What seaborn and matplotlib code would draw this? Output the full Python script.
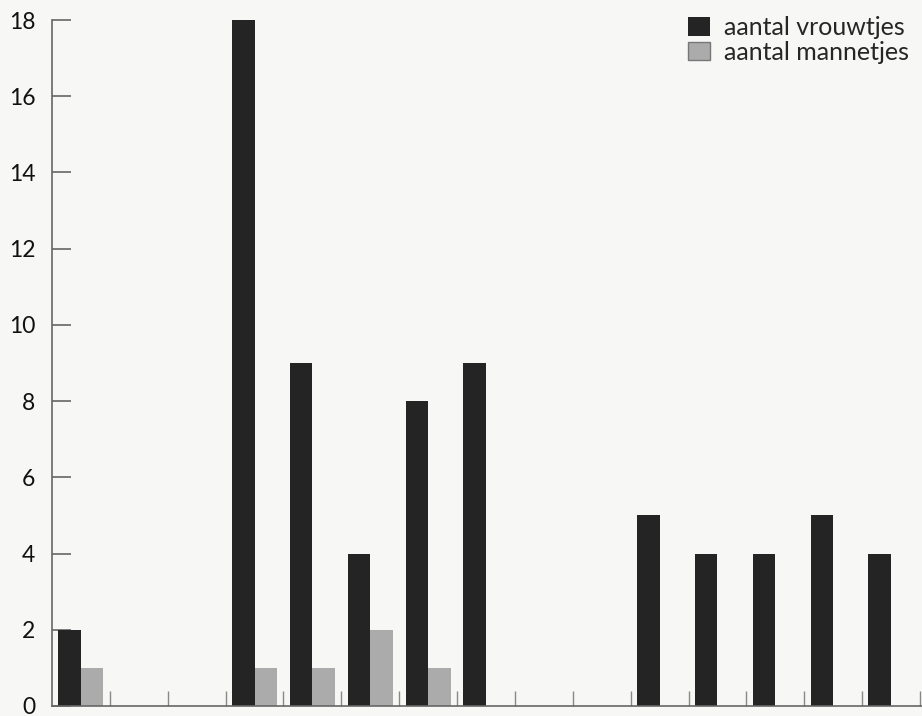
import pandas as pd
import seaborn as sns
import matplotlib.pyplot as plt

# gegevens per groep (geen labels op de x-as in het origineel)
groep = list(range(1, 16))
vrouwtjes = [2, 0, 0, 18, 9, 4, 8, 9, 0, 0, 5, 4, 4, 5, 4]
mannetjes = [1, 0, 0, 1, 1, 2, 1, 0, 0, 0, 0, 0, 0, 0, 0]
reeksen = ['aantal vrouwtjes', 'aantal mannetjes']
kleuren = ['#242424', '#ababab']

df = pd.DataFrame({'groep': groep * 2,
                   'aantal': vrouwtjes + mannetjes,
                   'reeks': [reeksen[0]] * len(groep) + [reeksen[1]] * len(groep)})

sns.set_style('white')
plt.rcParams['font.family'] = ['Lato', 'DejaVu Sans']

fig = plt.figure(figsize=(9.22, 7.16), dpi=100, facecolor='#f7f7f6')
ax = fig.add_axes([52 / 922, 10 / 716, 870 / 922, 686 / 716])
ax.set_facecolor('#f7f7f6')

sns.barplot(data=df, x='groep', y='aantal', hue='reeks', palette=kleuren,
            width=0.78, ax=ax, edgecolor=None, linewidth=0)

ax.set_ylim(0, 18)
ax.set_xlim(-0.5, 14.535)
ax.set_yticks(range(0, 19, 2))
ax.set_xticks([i + 0.5 for i in range(15)])
ax.set_xticklabels([])
ax.set_xlabel('')
ax.set_ylabel('')

for s in ['top', 'right']:
    ax.spines[s].set_visible(False)
for s in ['left', 'bottom']:
    ax.spines[s].set_color('#666666')
    ax.spines[s].set_linewidth(1.2)

ax.tick_params(axis='y', left=True, direction='in', length=14, width=1.2,
               color='#666666', pad=12, labelsize=16.5, labelcolor='#111111')
ax.tick_params(axis='x', bottom=True, direction='in', length=11, width=1,
               color='#888888')

leg = ax.legend(loc='upper right', bbox_to_anchor=(909 / 922, 1 - 16 / 716),
                bbox_transform=fig.transFigure, frameon=False,
                prop={'family': ['Lato', 'DejaVu Sans'], 'size': 18},
                handlelength=0.88, handleheight=0.76, handletextpad=0.55,
                labelspacing=0.06, borderaxespad=0, borderpad=0)
leg.legend_handles[1].set_edgecolor('#777777')
leg.legend_handles[1].set_linewidth(1)

plt.savefig('out.png', dpi=100, facecolor=fig.get_facecolor())
